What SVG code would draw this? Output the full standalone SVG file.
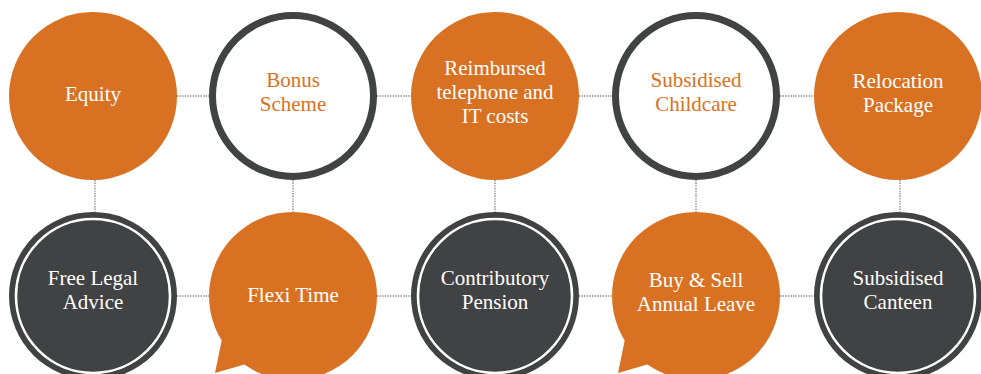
<svg xmlns="http://www.w3.org/2000/svg" width="981" height="374" viewBox="0 0 981 374">
<style>
.conn{stroke:#8c8c8c;stroke-width:1.4;stroke-dasharray:1.4 1.2;fill:none}
.orange{fill:#d97123}
.ring{fill:#ffffff;stroke:#414244;stroke-width:7}
.dark{fill:#414244}
.inner{fill:none;stroke:#ffffff;stroke-width:2.6}
text{font-family:"Liberation Serif","DejaVu Serif",serif;font-size:21px;text-anchor:middle}
.w{fill:#ffffff}
.o{fill:#d97123}
</style>
<rect width="981" height="374" fill="#ffffff"/>
<g id="connectors">
<line class="conn" x1="177" y1="96" x2="210" y2="96"/>
<line class="conn" x1="377" y1="96" x2="411" y2="96"/>
<line class="conn" x1="579" y1="96" x2="613" y2="96"/>
<line class="conn" x1="780" y1="96" x2="815" y2="96"/>
<line class="conn" x1="177" y1="296" x2="210" y2="296"/>
<line class="conn" x1="377" y1="296" x2="411" y2="296"/>
<line class="conn" x1="579" y1="296" x2="613" y2="296"/>
<line class="conn" x1="780" y1="296" x2="815" y2="296"/>
<line class="conn" x1="95" y1="180" x2="95" y2="212"/>
<line class="conn" x1="293" y1="180" x2="293" y2="212"/>
<line class="conn" x1="495" y1="180" x2="495" y2="212"/>
<line class="conn" x1="696" y1="180" x2="696" y2="212"/>
<line class="conn" x1="900" y1="180" x2="900" y2="212"/>
</g>
<g id="equity">
<circle class="orange" cx="93" cy="96" r="84"/>
<text class="w" x="93" y="101">Equity</text>
</g>
<g id="bonus-scheme">
<circle class="ring" cx="293" cy="96" r="80.5"/>
<text class="o" x="293" y="87">Bonus</text>
<text class="o" x="293" y="111">Scheme</text>
</g>
<g id="reimbursed">
<circle class="orange" cx="495" cy="96" r="84"/>
<text class="w" x="495" y="75">Reimbursed</text>
<text class="w" x="495" y="99">telephone and</text>
<text class="w" x="495" y="123">IT costs</text>
</g>
<g id="subsidised-childcare">
<circle class="ring" cx="696" cy="96" r="80.5"/>
<text class="o" x="696" y="87">Subsidised</text>
<text class="o" x="696" y="111">Childcare</text>
</g>
<g id="relocation">
<circle class="orange" cx="898" cy="96" r="84"/>
<text class="w" x="898" y="88">Relocation</text>
<text class="w" x="898" y="112">Package</text>
</g>
<g id="free-legal-advice">
<circle class="dark" cx="93" cy="296" r="84"/>
<circle class="inner" cx="93" cy="296" r="77"/>
<text class="w" x="93" y="285">Free Legal</text>
<text class="w" x="93" y="309">Advice</text>
</g>
<g id="flexi-time">
<circle class="orange" cx="293" cy="296" r="84"/>
<polygon class="orange" points="222,339 215,373 246,364 260,350"/>
<text class="w" x="293" y="302">Flexi Time</text>
</g>
<g id="contributory-pension">
<circle class="dark" cx="495" cy="296" r="84"/>
<circle class="inner" cx="495" cy="296" r="77"/>
<text class="w" x="495" y="285">Contributory</text>
<text class="w" x="495" y="309">Pension</text>
</g>
<g id="buy-sell-leave">
<circle class="orange" cx="696" cy="296" r="84"/>
<polygon class="orange" points="625,339 618,373 649,364 663,350"/>
<text class="w" x="696" y="287">Buy &amp; Sell</text>
<text class="w" x="696" y="311">Annual Leave</text>
</g>
<g id="subsidised-canteen">
<circle class="dark" cx="898" cy="296" r="84"/>
<circle class="inner" cx="898" cy="296" r="77"/>
<text class="w" x="898" y="285">Subsidised</text>
<text class="w" x="898" y="309">Canteen</text>
</g>
</svg>
